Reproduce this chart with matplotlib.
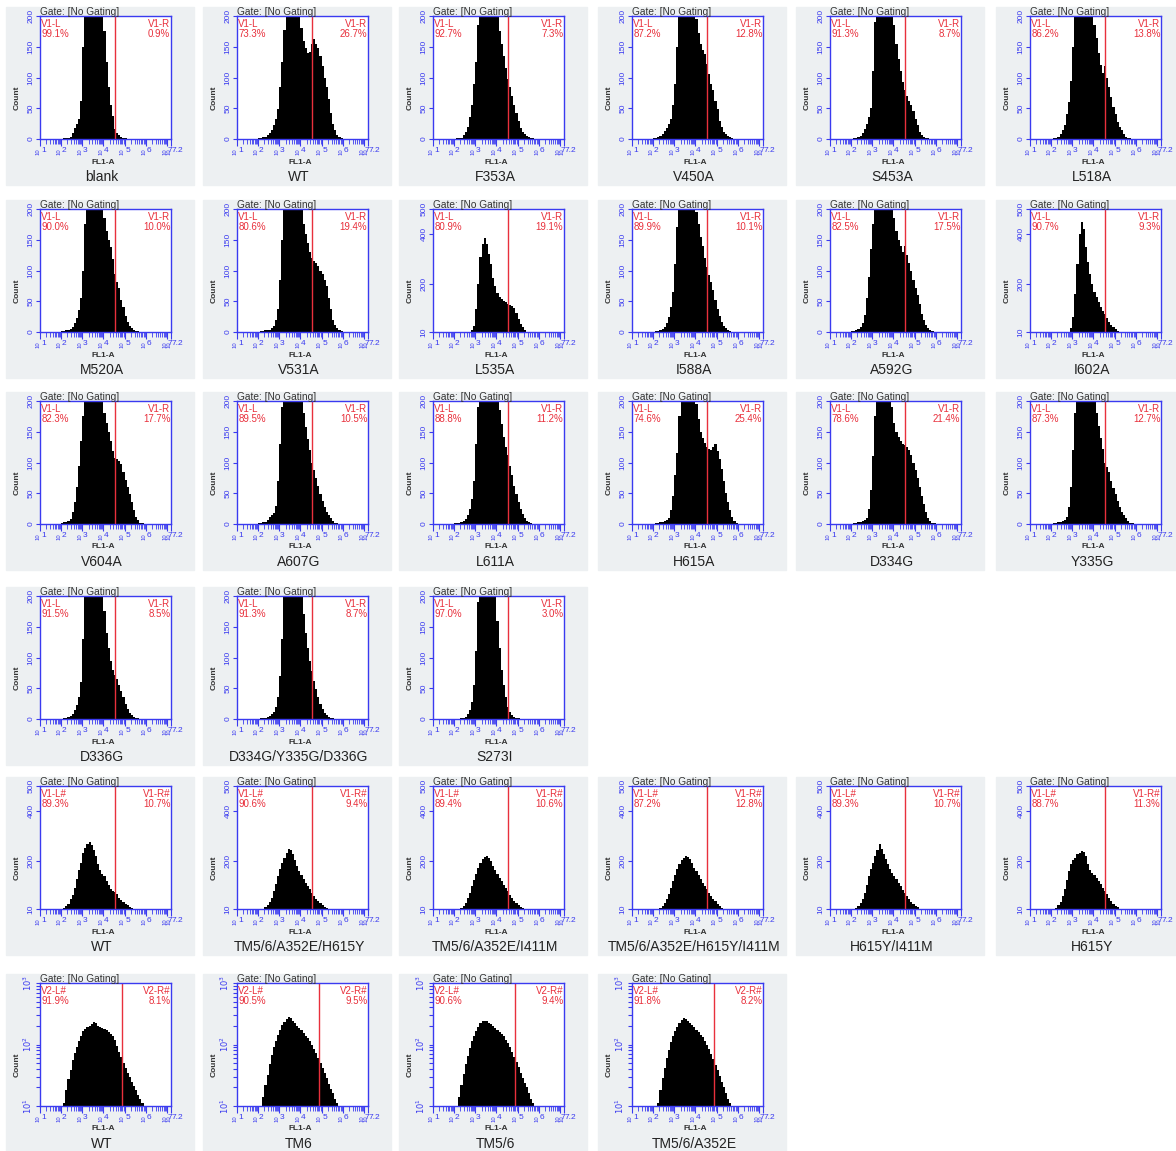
import numpy as np
import matplotlib
matplotlib.use("Agg")
import matplotlib.pyplot as plt
from matplotlib.patches import Rectangle
from matplotlib.transforms import blended_transform_factory

plt.rcParams['font.family'] = ['Liberation Sans', 'DejaVu Sans']

# log10(FL1-A) bin left edges, width 0.1
bins = np.round(np.arange(2.0, 6.0, 0.1), 1)

# ---- row 1 ----
blank = [0,1,1,2,3,10,18,25,32,62, 150,230,280,300,310,310,300,285,265,230, 175,125,85,55,38,16,10,6,4,2, 1,0,0,0,0,0,0,0,0,0]
wt1 = [1,2,3,4,7,10,15,22,32,48, 85,125,177,205,240,260,260,250,230,205, 180,160,148,140,142,155,162,155,148,135, 118,100,85,65,42,25,14,6,3,1]
f353a = [0,1,1,2,6,12,20,35,55,90, 125,185,230,260,280,290,290,280,260,235, 205,175,155,135,115,98,85,70,55,42, 30,18,12,8,5,3,2,1,0,0]
v450a = [1,2,3,5,8,13,18,25,33,55, 90,150,200,240,265,280,285,275,255,225, 195,172,155,145,138,122,105,90,80,62, 48,30,20,12,8,5,3,1,0,0]
s453a = [0,1,2,3,5,10,17,25,35,50, 110,190,240,275,295,305,305,295,270,230, 185,155,130,110,92,80,70,62,55,45, 32,22,12,7,4,2,1,0,0,0]
l518a = [0,1,2,4,8,14,22,40,60,95, 150,200,245,275,290,295,290,280,260,220, 185,165,140,120,108,118,100,85,68,52, 40,28,20,14,8,4,2,1,0,0]
# ---- row 2 ----
m520a = [1,2,3,4,5,8,14,22,35,55, 100,175,215,250,270,280,280,270,250,220, 185,165,150,138,118,95,82,72,52,40, 26,17,10,6,3,2,1,0,0,0]
v531a = [0,1,2,3,3,4,6,10,20,38, 85,150,200,230,255,265,265,258,245,225, 200,175,160,145,130,120,115,112,108,100, 95,85,75,55,38,20,12,6,3,1]
l535a = [0,0,0,0,1,2,4,10,18,35, 100,200,310,360,385,360,320,280,225,195, 165,150,140,132,128,122,118,115,105,85, 60,42,28,18,10,5,2,0,0,0]
i588a = [0,1,2,3,5,8,15,24,40,65, 110,170,220,255,275,285,285,275,255,225, 195,175,155,140,120,105,92,82,68,52, 38,26,16,10,6,3,1,0,0,0]
a592g = [1,2,3,5,8,15,28,55,90,135, 175,210,245,270,285,290,285,270,245,215, 185,165,150,140,130,140,125,112,100,85, 72,60,45,30,20,12,6,3,1,0]
i602a = [0,0,0,0,0,1,2,5,10,25, 70,160,280,400,450,420,350,290,240,200, 170,150,130,110,95,80,65,50,38,28, 20,14,8,4,2,0,0,0,0,0]
# ---- row 3 ----
v604a = [2,3,4,5,8,20,35,60,95,135, 175,210,240,260,270,275,270,255,235,210, 180,165,150,135,118,108,105,102,98,85, 72,60,48,35,22,12,6,2,1,0]
a607g = [1,2,3,4,6,12,15,18,30,70, 130,190,235,265,285,295,295,285,265,240, 210,180,158,138,120,100,88,75,62,48, 38,28,20,14,9,5,2,1,0,0]
l611a = [1,1,2,3,5,8,15,25,40,70, 130,190,235,265,285,295,300,295,280,250, 215,185,162,142,125,112,95,80,62,48, 35,25,16,10,5,3,1,0,0,0]
h615a = [0,1,2,3,4,5,6,10,22,45, 80,115,175,215,250,270,275,265,245,220, 195,170,150,140,132,125,122,120,125,130, 118,105,90,70,50,35,22,12,5,2]
d334g = [0,1,2,3,4,5,6,10,25,55, 110,175,215,245,265,270,265,250,225,190, 165,150,142,135,130,128,125,120,112,100, 88,75,60,45,32,20,10,5,2,1]
y335g = [0,1,2,3,4,5,7,12,28,60, 120,180,220,255,275,285,285,275,255,230, 205,180,160,140,122,100,92,85,70,58, 48,38,28,20,14,9,5,2,1,0]
# ---- row 4 ----
d336g = [0,1,2,3,5,8,14,22,35,60, 130,220,270,295,305,305,295,280,255,215, 175,140,115,95,80,72,65,55,45,35, 25,16,10,6,3,2,1,0,0,0]
triple = [0,1,1,2,3,5,8,12,20,35, 70,130,210,260,290,305,305,295,275,245, 205,170,140,115,95,78,62,48,36,25, 16,10,6,3,2,1,0,0,0,0]
s273i = [0,0,0,1,2,4,8,15,28,55, 110,190,250,290,310,315,310,290,260,215, 160,115,80,55,35,20,12,7,4,2, 1,0,0,0,0,0,0,0,0,0]
# ---- row 5 ----
wt5 = [5,12,20,30,48,65,95,130,165,195, 235,255,270,278,265,245,220,190,165,150, 140,120,105,90,82,76,68,55,47,38, 30,24,18,13,8,5,3,1,0,0]
tm_h615y = [3,6,10,16,25,38,55,80,110,140, 170,195,215,235,250,245,230,205,180,160, 145,130,115,100,88,75,62,50,40,32, 24,18,12,8,5,3,2,1,0,0]
tm_i411m = [2,5,9,14,22,35,52,75,100,125, 150,175,195,210,218,222,215,200,182,165, 150,135,120,105,92,80,66,54,43,34, 26,19,13,9,6,3,2,1,0,0]
tm_h615y_i411m = [2,4,8,13,20,32,48,70,95,120, 145,170,190,205,215,220,218,208,192,175, 160,145,130,115,100,88,75,62,50,40, 30,22,15,10,6,4,2,1,0,0]
h615y_i411m = [3,7,12,20,32,50,75,105,140,170, 195,220,245,270,250,230,210,190,170,155, 142,128,115,100,85,72,60,48,38,30, 22,16,11,7,4,2,1,0,0,0]
h615y = [3,8,15,25,38,60,90,125,160,190, 205,215,228,235,240,238,220,190,165,152, 145,132,120,108,95,82,68,52,40,30, 22,16,11,8,5,3,2,1,0,0]
# ---- row 6 (log count) ----
wt6 = [5,11,18,27,38,55,72,92,115,140, 165,180,190,200,215,235,220,200,190,185, 178,170,160,150,140,118,95,76,62,50, 42,35,30,25,21,18,15,13,11,9]
tm6 = [4,8,14,22,32,48,68,90,115,145, 175,205,235,260,280,270,245,220,200,185, 170,155,140,128,115,100,85,72,60,50, 42,34,28,23,19,16,13,11,9,7]
tm56 = [4,8,14,22,33,48,66,88,112,140, 168,195,220,240,245,238,225,212,200,188, 175,162,148,135,120,105,90,76,63,52, 43,35,29,24,20,16,13,11,9,7]
tm56_a352e = [3,6,11,18,28,42,60,82,108,135, 165,195,225,250,265,258,240,220,205,190, 175,160,145,130,115,100,85,70,58,47, 38,31,25,20,16,13,11,9,7,5]

row1_names = ["blank", "WT", "F353A", "V450A", "S453A", "L518A"]
row1_left = [99.1, 73.3, 92.7, 87.2, 91.3, 86.2]
row1_right = [0.9, 26.7, 7.3, 12.8, 8.7, 13.8]
row2_names = ["M520A", "V531A", "L535A", "I588A", "A592G", "I602A"]
row2_left = [90.0, 80.6, 80.9, 89.9, 82.5, 90.7]
row2_right = [10.0, 19.4, 19.1, 10.1, 17.5, 9.3]
row3_names = ["V604A", "A607G", "L611A", "H615A", "D334G", "Y335G"]
row3_left = [82.3, 89.5, 88.8, 74.6, 78.6, 87.3]
row3_right = [17.7, 10.5, 11.2, 25.4, 21.4, 12.7]
row4_names = ["D336G", "D334G/Y335G/D336G", "S273I"]
row4_left = [91.5, 91.3, 97.0]
row4_right = [8.5, 8.7, 3.0]
row5_names = ["WT", "TM5/6/A352E/H615Y", "TM5/6/A352E/I411M", "TM5/6/A352E/H615Y/I411M", "H615Y/I411M", "H615Y"]
row5_left = [89.3, 90.6, 89.4, 87.2, 89.3, 88.7]
row5_right = [10.7, 9.4, 10.6, 12.8, 10.7, 11.3]
row6_names = ["WT", "TM6", "TM5/6", "TM5/6/A352E"]
row6_left = [91.9, 90.5, 90.6, 91.8]
row6_right = [8.1, 9.5, 9.4, 8.2]

rows = [
    (row1_names, row1_left, row1_right, [blank, wt1, f353a, v450a, s453a, l518a],
     ["lin200"] * 6, "V1", "", 4.53),
    (row2_names, row2_left, row2_right, [m520a, v531a, l535a, i588a, a592g, i602a],
     ["lin200", "lin200", "lin500", "lin200", "lin200", "lin500"], "V1", "", 4.53),
    (row3_names, row3_left, row3_right, [v604a, a607g, l611a, h615a, d334g, y335g],
     ["lin200"] * 6, "V1", "", 4.53),
    (row4_names, row4_left, row4_right, [d336g, triple, s273i],
     ["lin200"] * 3, "V1", "", 4.53),
    (row5_names, row5_left, row5_right, [wt5, tm_h615y, tm_i411m, tm_h615y_i411m, h615y_i411m, h615y],
     ["lin500"] * 6, "V1", "#", 4.53),
    (row6_names, row6_left, row6_right, [wt6, tm6, tm56, tm56_a352e],
     ["log"] * 4, "V2", "#", 4.9),
]

W, H = 1176, 1151
fig = plt.figure(figsize=(W / 100, H / 100), dpi=100)

col_x = [40, 237, 433, 632, 830, 1030]
row_y = [16, 209, 401, 596, 786, 983]
fw, fh = 131, 123

blue = '#3a3af0'
red = '#e8303c'
box_col = '#edf0f2'

xt = [1, 2, 3, 4, 5, 6, 7, 7.2]
xt_lab = ["1", "2", "3", "4", "5", "6", "7", "7.2"]
xminor = [n + np.log10(k) for n in range(1, 7) for k in range(2, 10)]


def draw_panel(r, c, counts, name, pl, pr, scale, tag, suf, gate):
    x0, y0 = col_x[c], row_y[r]
    bx = x0 - 34
    bw = min(188, W - bx)
    fig.patches.append(Rectangle((bx / W, 1 - (y0 + 169) / H), bw / W, 178 / H,
                                 transform=fig.transFigure, color=box_col, zorder=-5))
    ax = fig.add_axes([x0 / W, 1 - (y0 + fh) / H, fw / W, fh / H])
    bottom = 1 if scale == "log" else 0
    ax.bar(bins, np.array(counts) - bottom, bottom=bottom, width=0.1, align='edge',
           color='black', linewidth=0)
    ax.set_xlim(1, 7.2)
    if scale == "lin200":
        ax.set_ylim(0, 200)
        ax.set_yticks([0, 50, 100, 150, 200])
    elif scale == "lin500":
        ax.set_ylim(10, 500)
        ax.set_yticks([10, 200, 400, 500])
    else:
        ax.set_yscale('log')
        ax.set_ylim(10, 1000)
        ax.set_yticks([10, 100, 1000])
        ax.set_yticklabels(['$10^1$', '$10^2$', '$10^3$'])
    for sp in ax.spines.values():
        sp.set_color(blue)
        sp.set_linewidth(1)
    ax.tick_params(axis='y', which='both', colors=blue, labelsize=6, length=3,
                   width=0.8, pad=1)
    plt.setp(ax.get_yticklabels(), rotation=90, va='center', ha='right')
    ax.set_xticks(xt)
    ax.set_xticklabels([])
    ax.set_xticks(xminor, minor=True)
    ax.tick_params(axis='x', which='major', colors=blue, length=5, width=0.8)
    ax.tick_params(axis='x', which='minor', colors=blue, length=3.5, width=0.6)
    trans = blended_transform_factory(ax.transData, ax.transAxes)
    for v, lab in zip(xt, xt_lab):
        ax.text(v + 0.02, -0.105, "10", rotation=90, fontsize=4.2, color=blue,
                ha='right', va='center', transform=trans)
        ax.text(v + 0.04, -0.095, lab, fontsize=6, color=blue,
                ha='left', va='center', transform=trans)
    ax.axvline(gate, color=red, lw=1)
    ax.text(0.01, 0.975, f"{tag}-L{suf}\n{pl:.1f}%", transform=ax.transAxes, color=red,
            fontsize=7, ha='left', va='top', linespacing=0.95)
    ax.text(0.995, 0.975, f"{tag}-R{suf}\n{pr:.1f}%", transform=ax.transAxes, color=red,
            fontsize=7, ha='right', va='top', linespacing=0.95)
    ax.text(0.0, 0.99, "Gate: [No Gating]", transform=ax.transAxes, color='#333333',
            fontsize=7.3, ha='left', va='bottom')
    fig.text((x0 - 23) / W, 1 - (y0 + 82) / H, "Count", rotation=90, fontsize=6,
             fontweight='bold', color='#333333', ha='center', va='center')
    fig.text((x0 + 63) / W, 1 - (y0 + fh + 23) / H, "FL1-A", fontsize=6,
             fontweight='bold', color='#333333', ha='center', va='center')
    fig.text((x0 + 62) / W, 1 - (y0 + fh + 38) / H, name, fontsize=10,
             color='#222222', ha='center', va='center')


for r, (names, lefts, rights, data, scales, tag, suf, gate) in enumerate(rows):
    for c in range(len(names)):
        draw_panel(r, c, data[c], names[c], lefts[c], rights[c], scales[c], tag, suf, gate)

fig.savefig("out.png", dpi=100, facecolor='white')
